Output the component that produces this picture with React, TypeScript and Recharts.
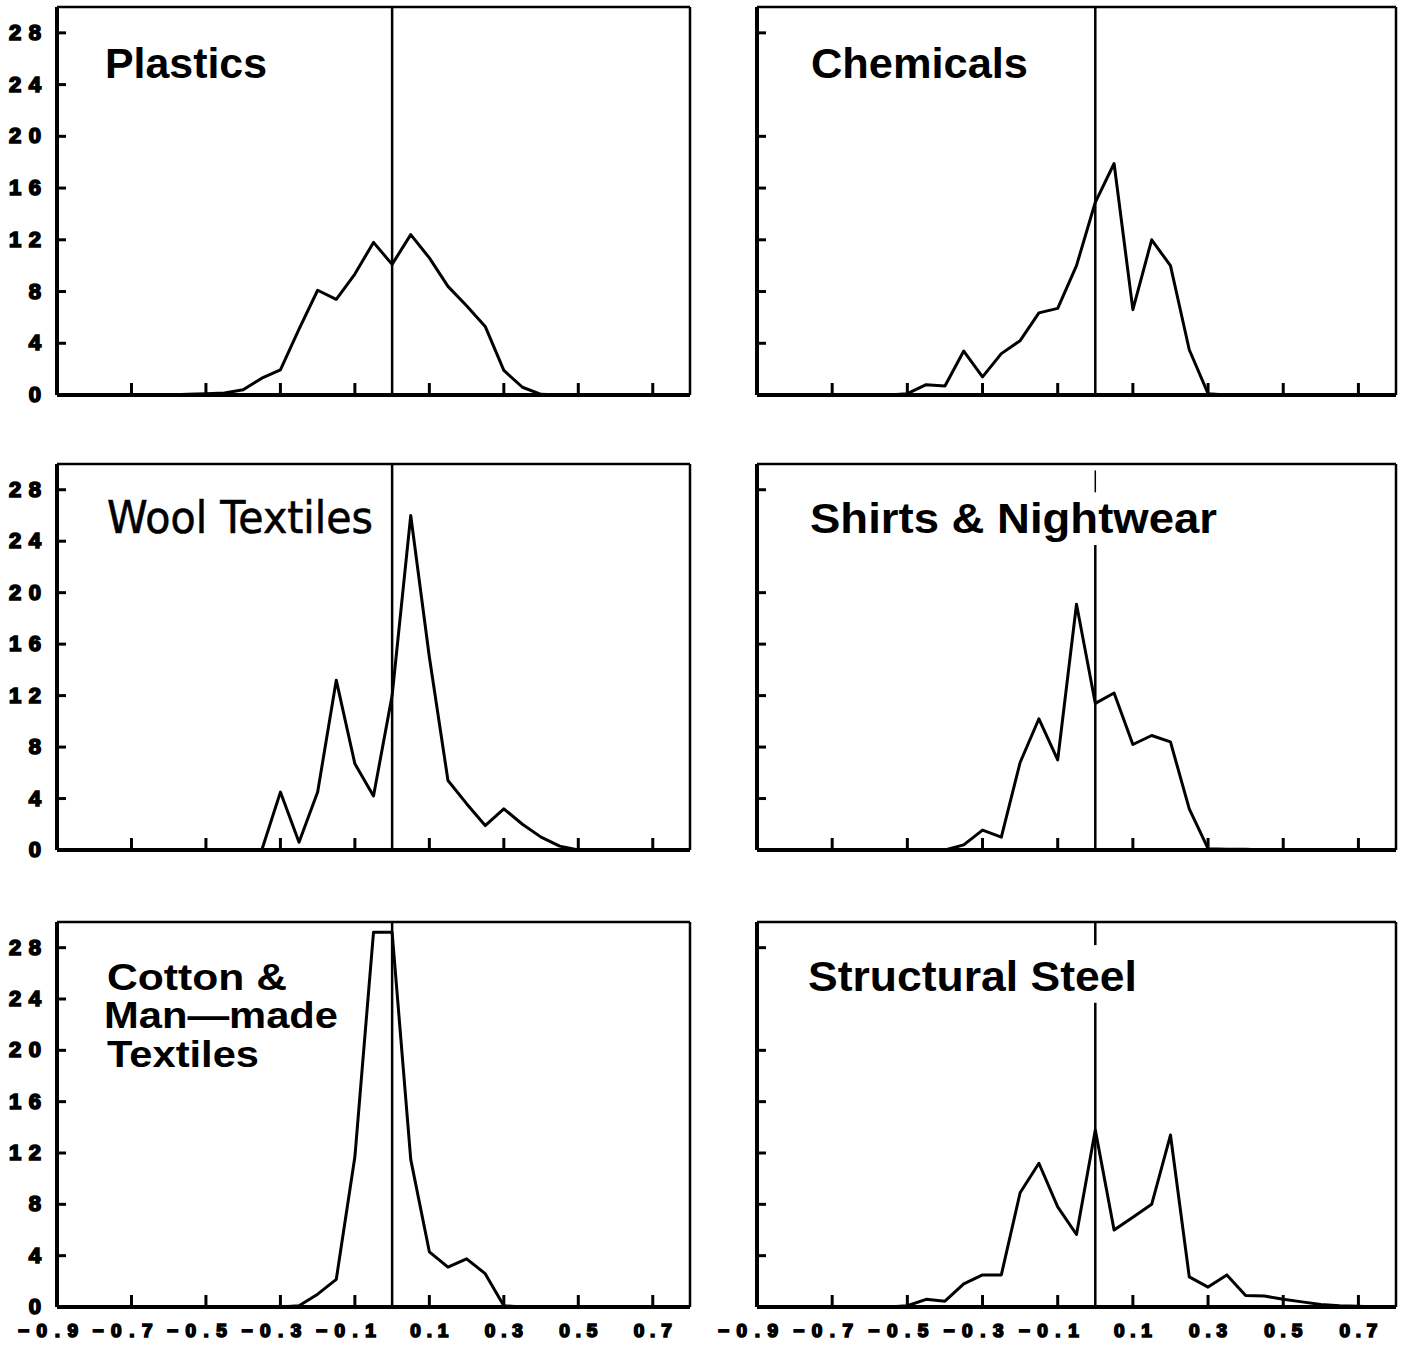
import { LineChart, Line, XAxis, YAxis, ReferenceLine } from "recharts";

// price change bins (x) and share of observations (y) per industry
const bins = [
  -0.9, -0.85, -0.8, -0.75, -0.7, -0.65, -0.6, -0.55, -0.5, -0.45, -0.4, -0.35,
  -0.3, -0.25, -0.2, -0.15, -0.1, -0.05, 0, 0.05, 0.1, 0.15, 0.2, 0.25, 0.3,
  0.35, 0.4, 0.45, 0.5, 0.55, 0.6, 0.65, 0.7, 0.75, 0.8,
];

const plastics = [
  0, 0, 0, 0, 0, 0, 0, 0.05, 0.1, 0.15, 0.4, 1.3,
  1.95, 5.1, 8.1, 7.4, 9.35, 11.8, 10.1, 12.4, 10.6, 8.4, 6.9, 5.3, 1.9,
  0.6, 0.05, 0, 0, 0, 0, 0, 0, 0, 0,
];
const chemicals = [
  0, 0, 0, 0, 0, 0, 0, 0, 0.1, 0.8, 0.7, 3.4,
  1.4, 3.2, 4.2, 6.35, 6.7, 10.0, 14.9, 17.9, 6.6, 12.0, 10.0, 3.5, 0.1,
  0, 0, 0, 0, 0, 0, 0, 0, 0, 0,
];
const woolTextiles = [
  0, 0, 0, 0, 0, 0, 0, 0, 0, 0, 0, 0,
  4.5, 0.6, 4.5, 13.2, 6.7, 4.2, 12.0, 26.0, 15.0, 5.4, 3.6, 1.9, 3.2,
  2.0, 1.0, 0.3, 0, 0, 0, 0, 0, 0, 0,
];
const shirtsNightwear = [
  0, 0, 0, 0, 0, 0, 0, 0, 0, 0, 0, 0.4,
  1.55, 1.0, 6.8, 10.2, 7.0, 19.1, 11.4, 12.2, 8.2, 8.9, 8.4, 3.2, 0.1,
  0.05, 0.05, 0, 0, 0, 0, 0, 0, 0, 0,
];
const cottonTextiles = [
  0, 0, 0, 0, 0, 0, 0, 0, 0, 0, 0, 0,
  0, 0.1, 1.0, 2.15, 11.7, 29.2, 29.2, 11.5, 4.3, 3.1, 3.75, 2.6, 0.1,
  0, 0, 0, 0, 0, 0, 0, 0, 0, 0,
];
const structuralSteel = [
  0, 0, 0, 0, 0, 0, 0, 0, 0.1, 0.6, 0.45, 1.8,
  2.5, 2.5, 8.9, 11.2, 7.8, 5.65, 13.8, 6.0, 7.0, 8.0, 13.4, 2.35, 1.55,
  2.5, 0.9, 0.85, 0.6, 0.4, 0.2, 0.1, 0.05, 0, 0,
];

const xTicks = [-0.9, -0.7, -0.5, -0.3, -0.1, 0.1, 0.3, 0.5, 0.7];
const yTicksLeft = [0, 4, 8, 12, 16, 20, 24, 28];
const yTicksRight = [0, 4, 8, 12, 16, 20, 28];

const toRows = (vals: number[]) => bins.map((x, i) => ({ x, y: vals[i] }));

const fmtX = (v: number) =>
  v < 0 ? "\u2212" + Math.abs(v).toFixed(1) : v.toFixed(1);

const tickFont = {
  fontFamily: "'Liberation Sans', Arial, sans-serif",
  fontWeight: 700,
};

function XTick(props: any) {
  const { x, y, payload, showLabel } = props;
  const neg = payload.value < 0;
  return (
    <g>
      <line x1={x} x2={x} y1={y} y2={y - 12} stroke="#000" strokeWidth={3} />
      {showLabel && (
        <text
          x={neg ? x - 9 : x}
          y={y + 30}
          textAnchor="middle"
          fontSize={19}
          textLength={neg ? 60 : 38}
          lengthAdjust="spacing"
          fill="#000"
          stroke="#000"
          strokeWidth={1.7}
          style={tickFont}
        >
          {fmtX(payload.value)}
        </text>
      )}
    </g>
  );
}

function YTick(props: any) {
  const { x, y, payload, showLabel } = props;
  const twoDigit = payload.value >= 10;
  return (
    <g>
      {payload.value !== 0 && (
        <line x1={x} x2={x + 9} y1={y} y2={y} stroke="#000" strokeWidth={3} />
      )}
      {showLabel && (
        <text
          x={x - 16}
          y={y + 7}
          textAnchor="end"
          fontSize={22}
          textLength={twoDigit ? 32 : undefined}
          lengthAdjust="spacing"
          fill="#000"
          stroke="#000"
          strokeWidth={1.7}
          style={tickFont}
        >
          {payload.value}
        </text>
      )}
    </g>
  );
}

type Seg = [number, number];

interface PanelProps {
  values: number[];
  left: number;
  width: number;
  plotTop: number;
  plotH: number;
  labelsX: boolean;
  labelsY: boolean;
  zeroSegs?: Seg[];
  thinSegs?: Seg[];
}

function Panel({
  values,
  left,
  width,
  plotTop,
  plotH,
  labelsX,
  labelsY,
  zeroSegs,
  thinSegs,
}: PanelProps) {
  const axisH = labelsX ? 40 : 22;
  return (
    <div style={{ position: "absolute", left, top: plotTop - 5 }}>
      <LineChart
        width={width}
        height={5 + plotH + axisH}
        data={toRows(values)}
        margin={{ top: 5, right: 10, bottom: 0, left: 0 }}
      >
        <XAxis
          dataKey="x"
          type="number"
          domain={[-0.9, 0.8]}
          ticks={xTicks}
          interval={0}
          height={axisH}
          tickSize={0}
          tickMargin={0}
          tickLine={false}
          axisLine={{ stroke: "#000", strokeWidth: 4 }}
          tick={(p: any) => <XTick {...p} showLabel={labelsX} />}
        />
        <YAxis
          type="number"
          domain={[0, 30]}
          ticks={labelsY ? yTicksLeft : yTicksRight}
          interval={0}
          width={57}
          tickSize={0}
          tickMargin={0}
          tickLine={false}
          axisLine={{ stroke: "#000", strokeWidth: 4 }}
          tick={(p: any) => <YTick {...p} showLabel={labelsY} />}
        />
        <ReferenceLine y={30} stroke="#000" strokeWidth={2.5} />
        <ReferenceLine x={0.8} stroke="#000" strokeWidth={2.5} />
        {zeroSegs ? (
          zeroSegs.map((s, i) => (
            <ReferenceLine
              key={"z" + i}
              segment={[
                { x: 0, y: s[0] },
                { x: 0, y: s[1] },
              ]}
              stroke="#000"
              strokeWidth={2.5}
            />
          ))
        ) : (
          <ReferenceLine x={0} stroke="#000" strokeWidth={2.5} />
        )}
        {thinSegs &&
          thinSegs.map((s, i) => (
            <ReferenceLine
              key={"t" + i}
              segment={[
                { x: 0, y: s[0] },
                { x: 0, y: s[1] },
              ]}
              stroke="#000"
              strokeWidth={1.5}
            />
          ))}
        <Line
          type="linear"
          dataKey="y"
          stroke="#000"
          strokeWidth={3}
          strokeLinejoin="round"
          dot={false}
          isAnimationActive={false}
        />
      </LineChart>
    </div>
  );
}

const titleStyle = {
  fontFamily: "'Liberation Sans', Arial, sans-serif",
  fontWeight: 700,
  fontSize: 43,
};

const stackedTitle = { ...titleStyle, fontSize: 36 };

export default function App() {
  return (
    <div
      style={{
        position: "absolute",
        left: 0,
        top: 0,
        width: 1406,
        height: 1349,
        background: "#fff",
      }}
    >
      <Panel values={plastics} left={0} width={700} plotTop={7} plotH={388} labelsX={false} labelsY />
      <Panel values={chemicals} left={700} width={706} plotTop={7} plotH={388} labelsX={false} labelsY={false} />
      <Panel values={woolTextiles} left={0} width={700} plotTop={464} plotH={386} labelsX={false} labelsY />
      <Panel
        values={shirtsNightwear}
        left={700}
        width={706}
        plotTop={464}
        plotH={386}
        labelsX={false}
        labelsY={false}
        zeroSegs={[[0, 23.7]]}
        thinSegs={[[27.8, 29.5]]}
      />
      <Panel values={cottonTextiles} left={0} width={700} plotTop={922} plotH={385} labelsX labelsY />
      <Panel
        values={structuralSteel}
        left={700}
        width={706}
        plotTop={922}
        plotH={385}
        labelsX
        labelsY={false}
        zeroSegs={[
          [0, 23.7],
          [28.2, 30],
        ]}
      />
      <svg
        width={1406}
        height={1349}
        style={{ position: "absolute", left: 0, top: 0, pointerEvents: "none" }}
      >
        <text x={105} y={78} style={titleStyle} textLength={162} lengthAdjust="spacingAndGlyphs">
          Plastics
        </text>
        <text x={811} y={78} style={titleStyle} textLength={217} lengthAdjust="spacingAndGlyphs">
          Chemicals
        </text>
        <text
          x={107}
          y={533}
          textLength={266}
          lengthAdjust="spacingAndGlyphs"
          stroke="#000"
          strokeWidth={0.6}
          style={{ fontFamily: "'DejaVu Sans', sans-serif", fontSize: 44 }}
        >
          Wool Textiles
        </text>
        <text x={810} y={533} style={titleStyle} textLength={407} lengthAdjust="spacingAndGlyphs">
          Shirts &amp; Nightwear
        </text>
        <text x={107} y={990} style={stackedTitle} textLength={180} lengthAdjust="spacingAndGlyphs">
          Cotton &amp;
        </text>
        <text x={104} y={1028} style={stackedTitle} textLength={234} lengthAdjust="spacingAndGlyphs">
          Man—made
        </text>
        <text x={107} y={1067} style={stackedTitle} textLength={152} lengthAdjust="spacingAndGlyphs">
          Textiles
        </text>
        <text x={808} y={991} style={titleStyle} textLength={329} lengthAdjust="spacingAndGlyphs">
          Structural Steel
        </text>
      </svg>
    </div>
  );
}
